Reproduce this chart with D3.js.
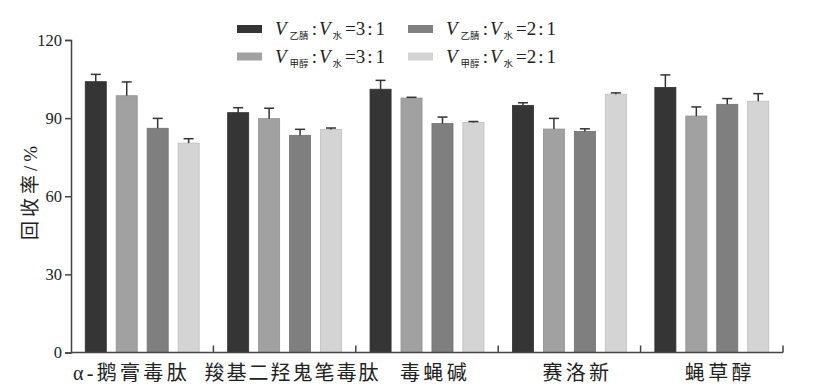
<!DOCTYPE html>
<html>
<head>
<meta charset="utf-8">
<script src="https://cdn.jsdelivr.net/npm/d3@7/dist/d3.min.js"></script>
<style>
  body { margin: 0; background: #fff; }
  text { font-family: "Liberation Serif", "Noto Sans CJK SC", serif; fill: #222; }
</style>
</head>
<body>
<div id="chart"></div>
<script>
// data
const categories = ['α-鹅膏毒肽', '羧基二羟鬼笔毒肽', '毒蝇碱', '赛洛新', '蝇草醇'];
const seriesKeys = ['acn31', 'meoh31', 'acn21', 'meoh21'];
const acn31 = [104.0, 92.1, 101.1, 94.9, 101.8];
const meoh31 = [98.6, 89.8, 97.7, 85.8, 90.8];
const acn21 = [86.1, 83.4, 87.9, 84.9, 95.3];
const meoh21 = [80.4, 85.6, 88.3, 99.2, 96.5];
const acn31Err = [2.8, 1.9, 3.4, 1.0, 4.8];
const meoh31Err = [5.3, 4.0, 0.3, 4.1, 3.5];
const acn21Err = [3.8, 2.3, 2.5, 1.0, 2.2];
const meoh21Err = [1.7, 0.6, 0.4, 0.5, 2.9];
const yTicks = [0, 30, 60, 90, 120];

const values = { acn31, meoh31, acn21, meoh21 };
const errors = { acn31: acn31Err, meoh31: meoh31Err, acn21: acn21Err, meoh21: meoh21Err };
const colors = { acn31: '#353535', meoh31: '#a1a1a1', acn21: '#7f7f7f', meoh21: '#d4d4d4' };
const legendItems = [
  { key: 'acn31', solv: '乙腈', a: '3', b: '1', col: 0, row: 0 },
  { key: 'acn21', solv: '乙腈', a: '2', b: '1', col: 1, row: 0 },
  { key: 'meoh31', solv: '甲醇', a: '3', b: '1', col: 0, row: 1 },
  { key: 'meoh21', solv: '甲醇', a: '2', b: '1', col: 1, row: 1 }
];

const width = 827, height = 388;
const margin = { left: 71, right: 44, top: 40, bottom: 35.5 };

const svg = d3.select('#chart').append('svg')
  .attr('width', width)
  .attr('height', height)
  .style('background-color', '#fff');

const x0 = d3.scaleBand()
  .domain(categories)
  .range([margin.left, width - margin.right])
  .padding(0);

const x1 = d3.scaleBand()
  .domain(seriesKeys)
  .range([0, x0.bandwidth()])
  .paddingInner(0.32)
  .paddingOuter(0.46);

const y = d3.scaleLinear()
  .domain([0, 120])
  .range([height - margin.bottom, margin.top]);

const rows = categories.map((c, i) => ({
  cat: c,
  bars: seriesKeys.map(k => ({ key: k, v: values[k][i], e: errors[k][i] }))
}));

const groups = svg.append('g').selectAll('g')
  .data(rows)
  .enter().append('g')
  .attr('transform', d => `translate(${x0(d.cat)},0)`);

groups.selectAll('rect')
  .data(d => d.bars)
  .enter().append('rect')
  .attr('x', d => x1(d.key))
  .attr('y', d => y(d.v))
  .attr('width', x1.bandwidth())
  .attr('height', d => y(0) - y(d.v))
  .style('fill', d => colors[d.key])
  .style('stroke', d => d3.color(colors[d.key]).darker(0.3))
  .style('stroke-width', 0.8);

// error bars (upper only)
const eb = groups.selectAll('g.err')
  .data(d => d.bars)
  .enter().append('g')
  .attr('class', 'err')
  .style('stroke', '#333')
  .style('stroke-width', 1.5);

eb.append('line')
  .attr('x1', d => x1(d.key) + x1.bandwidth() / 2)
  .attr('x2', d => x1(d.key) + x1.bandwidth() / 2)
  .attr('y1', d => y(d.v))
  .attr('y2', d => y(d.v + d.e));

eb.append('line')
  .attr('x1', d => x1(d.key) + x1.bandwidth() / 2 - 5)
  .attr('x2', d => x1(d.key) + x1.bandwidth() / 2 + 5)
  .attr('y1', d => y(d.v + d.e))
  .attr('y2', d => y(d.v + d.e));

// y axis
const yAxis = svg.append('g')
  .attr('transform', `translate(${margin.left},0)`)
  .call(d3.axisLeft(y).tickValues(yTicks).tickSize(6).tickPadding(3));
yAxis.select('.domain').attr('stroke', '#444').attr('stroke-width', 1.5);
yAxis.selectAll('.tick line').attr('stroke', '#444').attr('stroke-width', 1.5);
yAxis.selectAll('.tick text')
  .style('font-family', '"Liberation Serif", serif')
  .style('font-size', '16.5px')
  .attr('fill', '#333');

// x axis: baseline with inward ticks at group boundaries
const xBase = svg.append('g');
xBase.append('line')
  .attr('x1', margin.left)
  .attr('x2', width - margin.right)
  .attr('y1', y(0))
  .attr('y2', y(0))
  .attr('stroke', '#444')
  .attr('stroke-width', 1.5);
xBase.selectAll('line.sep')
  .data(categories)
  .enter().append('line')
  .attr('class', 'sep')
  .attr('x1', d => x0(d) + x0.bandwidth())
  .attr('x2', d => x0(d) + x0.bandwidth())
  .attr('y1', y(0))
  .attr('y2', y(0) - 7)
  .attr('stroke', '#444')
  .attr('stroke-width', 1.5);

xBase.selectAll('text')
  .data(categories)
  .enter().append('text')
  .attr('x', (d, i) => i === 0 ? x0(d) + 2 : x0(d) + x0.bandwidth() / 2 + 8)
  .attr('y', y(0) + 27)
  .attr('text-anchor', (d, i) => i === 0 ? 'start' : 'middle')
  .style('font-size', '20px')
  .style('letter-spacing', d => d.length === 8 ? '2px' : '3.3px')
  .text(d => d);

// y title
svg.append('text')
  .attr('transform', `translate(37,${191}) rotate(-90)`)
  .attr('text-anchor', 'middle')
  .style('font-size', '19px')
  .style('letter-spacing', '4px')
  .text('回收率/%');

// legend
const legend = svg.append('g').selectAll('g')
  .data(legendItems)
  .enter().append('g')
  .attr('transform', d => `translate(${237 + d.col * 171},${25 + d.row * 27.5})`);

legend.append('rect')
  .attr('width', 25)
  .attr('height', 8)
  .style('fill', d => colors[d.key]);

const lt = legend.append('text')
  .attr('x', 38)
  .attr('y', 10)
  .style('font-size', '19px');
lt.append('tspan').style('font-style', 'italic').text('V');
lt.append('tspan').attr('dx', 3).attr('dy', 4).style('font-size', '9.5px').text(d => d.solv);
lt.append('tspan').attr('dx', 3).attr('dy', -4).text(':');
lt.append('tspan').attr('dx', 2).style('font-style', 'italic').text('V');
lt.append('tspan').attr('dx', 2).attr('dy', 4).style('font-size', '9.5px').text('水');
lt.append('tspan').attr('dx', 3).attr('dy', -4).text(d => '=' + d.a);
lt.append('tspan').attr('dx', 2).text(':');
lt.append('tspan').attr('dx', 3).text(d => d.b);
</script>
</body>
</html>
